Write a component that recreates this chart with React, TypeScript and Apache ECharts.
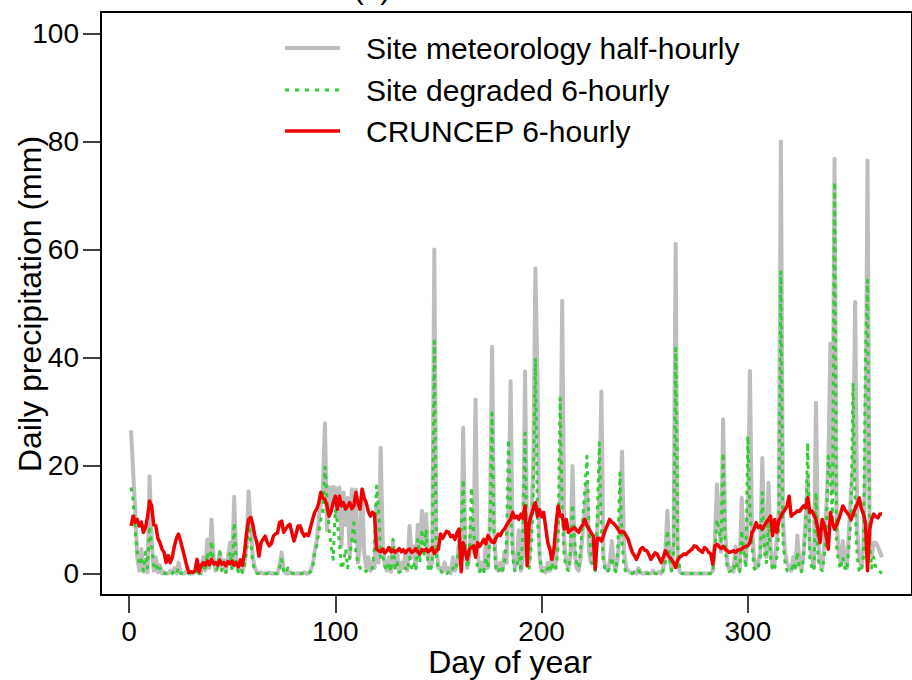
import React, { useEffect, useRef } from "react";
import * as echarts from "echarts";

// Daily precipitation (mm), day 1..365
const siteHalfHourly: number[] = [
  26.5, 19, 12, 3, 0.5, 4.5, 0.3, 2.5, 0.2, 18,
  6, 0.5, 3, 0.2, 1.5, 0, 0.3, 0, 0, 0.5,
  0, 1, 0, 2, 0.3, 0, 0, 0.5, 0, 0,
  0, 0.2, 1.5, 0, 0.3, 3, 0.5, 6.3, 1, 10,
  3, 0.5, 1.5, 4, 0.8, 2.5, 0.2, 3, 5.7, 1,
  14.2, 2, 0.5, 1.5, 0.3, 2, 5, 15.2, 9, 3,
  1, 0.3, 0, 0.2, 0, 0, 0, 0.2, 0, 0,
  0, 0, 1.5, 3.9, 0.5, 0, 0, 0.3, 0, 0,
  0, 0, 0, 0, 0.2, 0, 0, 0.5, 1.5, 4,
  6, 10, 13, 16, 27.8, 8, 16, 12, 16, 15.9,
  10, 15.9, 5, 15, 9, 14, 3, 15.6, 6, 15.5,
  2, 5, 15.6, 4, 1, 3, 0.5, 2, 1, 13,
  2, 23.3, 6, 1.5, 0.5, 3, 0.3, 6, 1, 4,
  0.2, 2, 1, 4, 0.5, 8.8, 3, 5, 1, 9,
  4, 11.6, 6, 11, 3, 1, 2, 60, 5, 1,
  1, 0.3, 2, 0.5, 1, 0, 3, 0.5, 1.5, 6,
  2, 27, 5, 1, 3, 10, 4, 32.2, 4, 0.5,
  2, 0.5, 6, 1, 10, 42, 8, 1, 0.5, 2,
  0.5, 4, 2, 12, 35.6, 5, 1, 2, 8, 0.5,
  3, 37.4, 5, 2, 10, 20, 56.5, 36.5, 3, 0.5,
  1, 0.2, 2, 0.5, 4, 1, 2, 10, 14, 50.5,
  6, 2, 1, 3, 19.9, 4, 1, 0.5, 3, 8,
  12, 17, 4, 2, 6, 1, 8, 14, 33.7, 3,
  1, 0.5, 2, 6, 2, 0.5, 3, 8, 22.6, 4,
  1, 0.5, 0.2, 0, 0.3, 0, 1, 0.2, 0, 0,
  0.2, 0, 0, 0.5, 0, 0, 0.3, 0, 1, 4,
  11.6, 3, 0.5, 6, 61, 2, 0.3, 0, 0, 0,
  0, 0, 0, 0, 0, 0, 0, 0, 0, 0,
  0, 0, 0.5, 6, 16.5, 10, 4, 28.5, 8, 2,
  0.5, 1, 0.3, 5, 2, 0.5, 14, 6, 2, 10,
  37.5, 8, 3, 1, 2, 4, 21.4, 6, 3, 16.8,
  5, 1, 2, 6, 12, 80, 10, 4, 2, 1,
  0.5, 3, 1, 7, 2, 0.5, 4, 10, 18, 5,
  3, 1, 31.6, 6, 2, 1, 5, 12, 20, 42.6,
  15, 76.8, 10, 4, 2, 6, 3, 1, 8, 15,
  20, 50.3, 8, 3, 1, 5, 20, 76.5, 8, 3,
  5.7, 5.7, 5, 4, 3,
];

const siteDegraded6h: number[] = [
  15.9, 13.7, 8, 3.9, 1.7, 2.5, 0.5, 3.9, 1, 8.8,
  5, 1.4, 2, 0.3, 1, 0, 0, 0, 0, 0.3,
  0, 0.5, 0, 1, 0, 0, 0, 0.3, 0, 0,
  0, 0, 1, 0, 0, 2, 0.3, 3.9, 1, 6,
  2, 0.5, 1, 3.9, 0.5, 2, 0.2, 2.5, 3.9, 0.5,
  9.4, 1.5, 0.3, 1, 0.2, 1.5, 4, 10.6, 6, 2,
  0.5, 0, 0, 0, 0, 0, 0, 0, 0, 0,
  0, 0, 1, 2.6, 0.3, 0, 1, 0.3, 0, 0,
  0, 0, 0, 0, 0, 0, 0, 0.3, 1, 3.9,
  5.1, 7.6, 10, 11.3, 19.7, 13.7, 8.2, 5, 2.6, 11.9,
  9.4, 5.7, 0.8, 2, 4.5, 1, 3, 6, 9.4, 3.9,
  2, 1, 0.5, 0.2, 0.5, 0.2, 0.3, 1, 5, 16.2,
  11.9, 2.6, 3.2, 1.4, 0.5, 2, 0.3, 6.3, 1, 2,
  0.2, 0.5, 0.3, 1, 0.5, 3, 1, 2, 0.5, 6.3,
  2, 8.2, 3, 8.2, 1, 0.3, 2, 43, 3, 0.5,
  0.5, 0, 0.3, 0, 0.2, 0, 1, 0.5, 2, 5,
  8, 17.4, 5, 1, 3, 15.9, 8, 4, 1, 0.3,
  1, 0.3, 3, 1, 8, 29.7, 5, 0.5, 0.2, 1,
  0.3, 2, 6, 24.8, 12, 3, 0.5, 1, 4, 0.3,
  8, 26, 3, 1, 5, 15, 39.9, 10, 4, 0.5,
  0.3, 0, 1, 0.3, 2, 0.5, 1, 5, 32.5, 12,
  3, 1, 0.5, 4, 12.8, 6, 2, 1, 5, 10,
  15.6, 21.7, 8, 3, 1, 0.5, 10, 24.2, 8, 2,
  0.5, 0.2, 1, 3, 1, 0.3, 5, 18.6, 6, 1,
  0.3, 0, 0, 0, 0.2, 0, 0.5, 0, 0, 0,
  0, 0, 0, 0.3, 0, 0, 0, 0, 0.5, 2,
  8, 3, 0.5, 4, 41.7, 5, 0.5, 0, 0, 0,
  0, 0, 0, 0, 0, 0, 0, 0, 0, 0,
  0, 0, 0, 4, 10, 8, 6, 22.3, 5, 1,
  0.3, 0.5, 0.2, 3, 1, 0.3, 8, 4, 1, 25.4,
  12, 5, 1, 0.5, 1, 3, 15, 4, 2, 10,
  3, 0.5, 1, 3, 8, 55.9, 6, 2, 0.5, 0.3,
  0.3, 2, 0.5, 4, 1, 0.3, 3, 8, 24.2, 3,
  1, 0.5, 15, 3, 1, 0.5, 3, 8, 21.7, 18,
  10, 72.5, 5, 2, 0.8, 3, 1, 0.5, 5, 10,
  35.3, 12, 3, 0.5, 0.3, 3, 40, 54.3, 6, 1,
  3, 1, 0.5, 0.3, 0,
];

const cruncep6h: number[] = [
  8.8, 10.6, 9.5, 10, 8.8, 9.5, 7.6, 8.5, 10.5, 13.4,
  12.5, 9, 8.8, 6.5, 5.7, 4.5, 3.9, 2, 3.3, 2,
  3, 5, 6.5, 7.3, 6, 4.5, 3, 1.4, 0.2, 0.3,
  0.2, 0.5, 2.6, 0.3, 1.5, 2, 1.5, 2.3, 1.6, 2.6,
  1.8, 2, 1.5, 2.4, 1.7, 2, 1.4, 2.2, 1.8, 2.3,
  1.5, 2, 1.2, 2.5, 1.5, 3.9, 7.5, 10, 10.4, 9.1,
  7, 5.7, 3.2, 5.7, 6.3, 6.9, 5.8, 5.1, 5.5, 6.9,
  7.3, 7.5, 9.4, 9.7, 7.6, 8.2, 8.8, 9.1, 7.5, 6,
  7.3, 8.8, 8.8, 7.6, 6.9, 7.3, 7, 8.5, 10, 11.3,
  11.9, 13.1, 15, 14, 13.7, 12.5, 10.6, 11.5, 13.1, 14.3,
  11.9, 14.3, 12.5, 13.1, 11.9, 12.5, 13.1, 12, 12.5, 15,
  13, 11.9, 15.6, 14, 13.1, 11.5, 10.6, 11.3, 11, 4.5,
  4.2, 4, 4.5, 3.8, 4.2, 4.8, 4, 4.3, 3.9, 4.2,
  4.6, 4, 4.4, 3.8, 4.3, 4.5, 3.9, 4.1, 4.6, 4,
  3.6, 4.4, 4.2, 4.5, 4, 4.3, 4.8, 3.7, 4.2, 4.5,
  7.3, 6.5, 7.2, 7.8, 7.6, 6.8, 7, 6.3, 7.5, 8.2,
  0.3, 5.7, 4, 2.6, 4.5, 4.8, 5.1, 3, 5.7, 5,
  5.6, 6.3, 5.5, 7, 6.4, 5.8, 5.7, 6.6, 7.3, 7,
  7.8, 8.2, 8.9, 9.5, 10, 11.3, 10.3, 10.6, 10, 11,
  10.2, 12.5, 1.4, 9.4, 10.8, 12, 13.1, 10.6, 11.8, 10.5,
  11.3, 8.5, 5.7, 4.5, 2.6, 4.5, 9, 12.5, 10.6, 10.8,
  8.2, 10, 7.6, 8, 8.2, 8.5, 8, 7.6, 8.5, 9,
  10, 8.8, 8.2, 7.5, 7, 0.8, 6.5, 6.5, 6, 7,
  8.2, 9, 10, 9.5, 9.2, 8.8, 8.2, 7.6, 7.8, 7.6,
  7, 6.3, 5, 3.9, 3.3, 2.6, 3.5, 4.5, 4.8, 4.3,
  4.2, 3.5, 2.6, 3.2, 3.8, 3.6, 2.8, 2, 3, 4.2,
  3.5, 3, 2.6, 2, 1.1, 2.5, 3, 3.3, 3.6, 3.5,
  3.9, 4.2, 4.5, 5.1, 5, 4.5, 4.2, 3.9, 4.8, 4.5,
  3.9, 3.6, 1.7, 5.1, 5.4, 5, 4.6, 5, 4.5, 4.2,
  3.9, 4, 4.2, 3.9, 4.3, 4.4, 4.5, 4.8, 5, 5.1,
  5.7, 7.5, 8.2, 9.4, 8.5, 8.8, 8.2, 8.8, 9.5, 10,
  10.6, 7, 10, 7.6, 9.8, 10.6, 11.3, 11.8, 12.5, 14.3,
  10.6, 11, 11.2, 11.6, 11.5, 12, 12.5, 12.2, 14, 11.3,
  11.6, 10.8, 10, 8, 5.7, 10, 9, 7, 4.5, 11.3,
  9.5, 8.2, 9, 10, 11.2, 12.5, 11.8, 11.3, 10.8, 10,
  11, 12, 12.8, 14, 12, 11, 9.4, 0.5, 8, 10,
  11, 10.5, 10.3, 11, 11,
];

const xTicks = [0, 100, 200, 300];
const yTicks = [0, 20, 40, 60, 80, 100];
const legendLabels = [
  "Site meteorology half-hourly",
  "Site degraded 6-hourly",
  "CRUNCEP 6-hourly",
];
const FIRST_DAY = 1;

const FONT = "'Liberation Sans', Arial, sans-serif";
const GREY = "#bebebe";
const GREEN = "#32cd32";
const RED = "#f00000";

const toPairs = (vals: number[]) => vals.map((v, i) => [FIRST_DAY + i, v]);

export default function App() {
  const ref = useRef<HTMLDivElement>(null);
  useEffect(() => {
    if (!ref.current) return;
    const chart = echarts.init(ref.current, undefined, { renderer: "svg" });
    const legendY = [48, 90, 131];
    const legendStyles = [
      { stroke: GREY, lineWidth: 4 },
      { stroke: GREEN, lineWidth: 3, lineDash: [4, 6] },
      { stroke: RED, lineWidth: 3.5 },
    ];
    const graphics: any[] = [
      {
        type: "text",
        x: 372,
        y: -12,
        style: { text: "(a)", font: `30px ${FONT}`, fill: "#000", textAlign: "center", textVerticalAlign: "middle" },
      },
      {
        type: "text",
        x: 510,
        y: 662,
        style: { text: "Day of year", font: `32px ${FONT}`, fill: "#000", textAlign: "center", textVerticalAlign: "middle" },
      },
      {
        type: "text",
        x: 30,
        y: 304,
        rotation: Math.PI / 2,
        style: { text: "Daily precipitation (mm)", font: `32px ${FONT}`, fill: "#000", textAlign: "center", textVerticalAlign: "middle" },
      },
    ];
    legendLabels.forEach((lab, i) => {
      graphics.push({
        type: "line",
        shape: { x1: 285, y1: legendY[i], x2: 340, y2: legendY[i] },
        style: { ...legendStyles[i], lineCap: "butt" },
      });
      graphics.push({
        type: "text",
        x: 366,
        y: legendY[i],
        style: { text: lab, font: `30px ${FONT}`, fill: "#000", textAlign: "left", textVerticalAlign: "middle" },
      });
    });

    chart.setOption({
      animation: false,
      backgroundColor: "#ffffff",
      grid: {
        left: 101,
        top: 12,
        width: 821,
        height: 583,
        show: true,
        borderColor: "#000",
        borderWidth: 2,
        backgroundColor: "transparent",
      },
      xAxis: {
        type: "value",
        min: -13.56,
        max: 379.56,
        axisLine: { show: false, onZero: false },
        splitLine: { show: false },
        axisTick: { show: true, customValues: xTicks, length: 18, inside: false, lineStyle: { color: "#000", width: 1.5 } },
        axisLabel: { customValues: xTicks, fontSize: 28, color: "#000", fontFamily: FONT, margin: 22 },
      },
      yAxis: {
        type: "value",
        min: -4,
        max: 104,
        axisLine: { show: false, onZero: false },
        splitLine: { show: false },
        axisTick: { show: true, customValues: yTicks, length: 18, inside: false, lineStyle: { color: "#000", width: 1.5 } },
        axisLabel: { customValues: yTicks, fontSize: 28, color: "#000", fontFamily: FONT, margin: 22 },
      },
      series: [
        {
          name: legendLabels[0],
          type: "line",
          data: toPairs(siteHalfHourly),
          showSymbol: false,
          symbol: "none",
          lineStyle: { color: GREY, width: 4, join: "round" },
          z: 1,
        },
        {
          name: legendLabels[1],
          type: "line",
          data: toPairs(siteDegraded6h),
          showSymbol: false,
          symbol: "none",
          lineStyle: { color: GREEN, width: 3, type: [4, 5], join: "round" },
          z: 2,
        },
        {
          name: legendLabels[2],
          type: "line",
          data: toPairs(cruncep6h),
          showSymbol: false,
          symbol: "none",
          lineStyle: { color: RED, width: 3.5, join: "round" },
          z: 3,
        },
      ],
      graphic: graphics,
    });
    return () => chart.dispose();
  }, []);
  return (
    <div
      ref={ref}
      style={{ position: "absolute", left: 0, top: 0, width: 912, height: 680, background: "#fff" }}
    />
  );
}
